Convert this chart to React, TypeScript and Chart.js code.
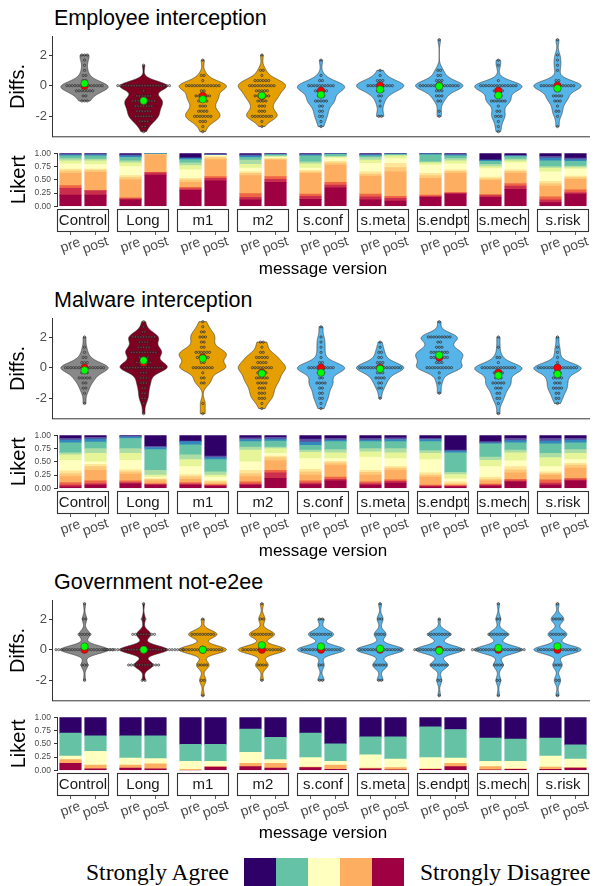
import React, { useEffect, useRef } from 'react';
import { Chart, registerables } from 'chart.js';
Chart.register(...registerables);

const FONT = '"Liberation Sans", Arial, Helvetica, sans-serif';
const SERIF = '"Liberation Serif", "Times New Roman", serif';
Chart.defaults.font.family = FONT;

// ---------- categories & labels ----------
const categories = ['Control', 'Long', 'm1', 'm2', 's.conf', 's.meta', 's.endpt', 's.mech', 's.risk'];
const phases = ['pre', 'post'];
const panelTitles = ['Employee interception', 'Malware interception', 'Government not-e2ee'];
const diffTicks = [-2, 0, 2];
const likertTicks = [0, 0.25, 0.5, 0.75, 1];
const legendLabels = ['Strongly Agree', 'Strongly Disagree'];
const xTitle = 'message version';

// ---------- colours ----------
const violinColors = ['#888888', '#7D0020', '#E69F00', '#E69F00', '#56B4E9', '#56B4E9', '#56B4E9', '#56B4E9', '#56B4E9'];
// bottom (Strongly Disagree) -> top (Strongly Agree)
const pal13 = ['#9E0142', '#CB2D4C', '#EE6445', '#FDAE61', '#FDC978', '#FEE597', '#FFFFBF', '#E6F598', '#ABDDA4', '#66C2A5', '#3288BD', '#5E4FA2', '#2E0068'];
const pal5 = ['#9E0142', '#FDAE61', '#FFFFBF', '#66C2A5', '#2E0068'];

// ---------- Diffs: counts per level ----------
const thirdLevels = [3, 8 / 3, 7 / 3, 2, 5 / 3, 4 / 3, 1, 2 / 3, 1 / 3, 0, -1 / 3, -2 / 3, -1, -4 / 3, -5 / 3, -2, -7 / 3, -8 / 3, -3];
const intLevels = [3, 2, 1, 0, -1, -2, -3];

const empDiffCounts = [
  [0, 0, 0, 3, 1, 1, 1, 2, 2, 14, 7, 2, 3, 0, 0, 0, 0, 0, 0],
  [0, 0, 0, 0, 0, 1, 0, 0, 0, 20, 1, 6, 9, 7, 6, 7, 4, 2, 1],
  [0, 0, 0, 0, 1, 0, 0, 2, 1, 13, 2, 6, 4, 3, 4, 7, 3, 1, 1],
  [0, 0, 0, 1, 0, 0, 2, 1, 6, 10, 5, 6, 4, 3, 3, 8, 1, 1, 0],
  [0, 0, 0, 0, 1, 0, 0, 1, 2, 10, 5, 3, 5, 2, 2, 2, 1, 1, 0],
  [0, 0, 0, 0, 0, 0, 1, 1, 3, 10, 3, 2, 1, 1, 0, 2, 0, 0, 0],
  [1, 0, 0, 0, 0, 0, 2, 2, 3, 15, 3, 3, 2, 0, 1, 1, 0, 0, 0],
  [0, 0, 0, 0, 1, 1, 0, 0, 1, 14, 4, 3, 6, 1, 2, 3, 1, 1, 1],
  [1, 0, 0, 1, 1, 1, 1, 0, 2, 13, 2, 4, 3, 1, 2, 1, 0, 1, 0],
];
const malDiffCounts = [
  [0, 0, 0, 1, 0, 1, 1, 2, 3, 15, 3, 5, 2, 2, 1, 0, 1, 0, 0],
  [1, 1, 2, 9, 4, 5, 10, 4, 6, 15, 3, 3, 3, 2, 2, 2, 1, 0, 1],
  [1, 1, 2, 3, 2, 2, 6, 5, 2, 8, 1, 2, 2, 0, 0, 0, 1, 0, 1],
  [0, 0, 0, 0, 2, 1, 2, 5, 4, 8, 4, 5, 4, 3, 3, 3, 1, 1, 0],
  [0, 1, 0, 1, 1, 1, 1, 1, 2, 10, 3, 2, 4, 2, 2, 2, 1, 1, 0],
  [0, 0, 0, 0, 1, 1, 2, 2, 3, 16, 3, 4, 2, 2, 0, 1, 0, 0, 0],
  [1, 0, 0, 9, 2, 3, 7, 7, 3, 10, 1, 1, 1, 0, 1, 0, 0, 0, 0],
  [0, 0, 0, 1, 0, 1, 0, 2, 1, 13, 4, 3, 5, 3, 2, 2, 1, 0, 1],
  [0, 0, 0, 1, 0, 1, 1, 1, 1, 15, 3, 4, 3, 4, 2, 2, 1, 0, 0],
];
const govDiffCounts = [
  [1, 2, 5, 22, 3, 1, 0],
  [1, 2, 9, 30, 12, 2, 0],
  [0, 1, 9, 15, 4, 2, 1],
  [1, 2, 8, 15, 4, 1, 0],
  [0, 2, 8, 15, 2, 2, 0],
  [1, 2, 4, 16, 5, 2, 0],
  [0, 1, 9, 19, 7, 2, 1],
  [1, 2, 8, 20, 4, 2, 1],
  [1, 4, 6, 15, 3, 2, 1],
];

// ---------- Likert shares (%), bottom level -> top level ----------
const empLikertPre = [
  [21, 13, 5, 23, 5, 3, 10, 6, 4, 5, 2, 2, 1],
  [12, 2, 2, 34, 4, 4, 17, 7, 4, 6, 3, 2, 3],
  [30, 3, 3, 9, 5, 3, 16, 8, 5, 6, 3, 0, 9],
  [12, 5, 7, 34, 4, 3, 7, 7, 8, 5, 3, 2, 3],
  [13, 6, 4, 39, 3, 3, 4, 8, 4, 11, 2, 1, 2],
  [12, 6, 5, 34, 4, 4, 16, 6, 5, 3, 2, 1, 2],
  [17, 2, 2, 32, 5, 4, 16, 4, 2, 13, 2, 0, 1],
  [17, 3, 2, 27, 3, 3, 16, 4, 4, 6, 2, 0, 13],
  [7, 5, 6, 20, 5, 4, 18, 7, 3, 11, 5, 3, 6],
];
const empLikertPost = [
  [21, 8, 1, 34, 4, 2, 9, 7, 3, 6, 2, 2, 1],
  [59, 4, 1, 33, 1, 0, 0, 0, 0, 1, 1, 0, 0],
  [48, 5, 3, 32, 4, 2, 2, 0, 0, 0, 1, 1, 2],
  [45, 6, 5, 31, 2, 1, 2, 2, 1, 2, 1, 1, 1],
  [35, 5, 5, 33, 4, 3, 6, 2, 1, 4, 1, 0, 1],
  [10, 5, 4, 46, 8, 8, 9, 5, 1, 2, 1, 0, 1],
  [23, 2, 1, 36, 4, 3, 11, 6, 4, 5, 2, 1, 2],
  [32, 6, 5, 19, 4, 3, 13, 4, 3, 5, 1, 1, 4],
  [23, 3, 5, 20, 3, 3, 13, 3, 3, 9, 3, 3, 9],
];
const malLikertPre = [
  [3, 3, 5, 11, 6, 5, 20, 10, 4, 19, 5, 3, 6],
  [9, 2, 3, 13, 4, 4, 18, 13, 9, 19, 3, 1, 2],
  [6, 2, 3, 6, 5, 4, 15, 13, 9, 19, 6, 1, 11],
  [6, 2, 4, 10, 6, 6, 16, 22, 6, 10, 4, 3, 5],
  [7, 3, 4, 11, 6, 5, 20, 12, 4, 9, 6, 6, 7],
  [6, 3, 3, 13, 5, 4, 25, 10, 6, 13, 3, 3, 6],
  [3, 1, 2, 15, 4, 4, 25, 12, 5, 17, 4, 2, 6],
  [4, 2, 2, 6, 3, 4, 20, 12, 6, 25, 2, 2, 12],
  [6, 4, 6, 9, 3, 3, 10, 17, 8, 18, 5, 5, 6],
];
const malLikertPost = [
  [6, 3, 5, 20, 7, 4, 5, 16, 9, 12, 6, 3, 4],
  [6, 1, 2, 5, 3, 1, 3, 4, 9, 39, 4, 2, 21],
  [4, 1, 2, 2, 3, 2, 7, 4, 6, 23, 4, 3, 39],
  [19, 10, 5, 18, 6, 3, 5, 9, 3, 11, 4, 3, 4],
  [14, 3, 4, 23, 4, 3, 5, 11, 6, 15, 3, 3, 6],
  [10, 3, 3, 18, 4, 3, 15, 11, 8, 13, 4, 3, 5],
  [3, 1, 1, 2, 2, 3, 6, 8, 4, 37, 3, 2, 28],
  [12, 2, 3, 12, 6, 6, 11, 15, 5, 14, 4, 4, 6],
  [14, 2, 3, 19, 6, 3, 7, 12, 7, 13, 5, 3, 6],
];
const govLikertPre = [
  [13, 7, 7, 43, 30],
  [4, 6, 13, 42, 35],
  [0, 2, 15, 32, 51],
  [7, 6, 21, 44, 22],
  [5, 1, 18, 46, 30],
  [3, 1, 25, 34, 37],
  [2, 1, 21, 58, 18],
  [1, 6, 10, 44, 39],
  [2, 4, 21, 34, 39],
];
const govLikertPost = [
  [3, 7, 26, 29, 35],
  [3, 9, 10, 43, 35],
  [6, 1, 10, 32, 51],
  [4, 9, 7, 42, 38],
  [2, 8, 7, 33, 50],
  [1, 4, 16, 42, 37],
  [7, 6, 10, 54, 23],
  [2, 1, 14, 42, 41],
  [4, 1, 16, 27, 52],
];

const panels = [
  { title: panelTitles[0], levels: thirdLevels, counts: empDiffCounts, bw: 0.3, pre: empLikertPre, post: empLikertPost, pal: pal13 },
  { title: panelTitles[1], levels: thirdLevels, counts: malDiffCounts, bw: 0.3, pre: malLikertPre, post: malLikertPost, pal: pal13 },
  { title: panelTitles[2], levels: intLevels, counts: govDiffCounts, bw: 0.26, pre: govLikertPre, post: govLikertPost, pal: pal5 },
];

// ---------- layout constants ----------
const PANEL_STEP = 282;
const DOT_STEP = 0.046; // horizontal dot spacing, in category units
const VIOLIN_HALF = 0.4; // max half-width, in category units
const FACET_PERIOD = 2.4;
const FACET_HALF = 0.54;

// ---------- stats ----------
function quantile7(s: number[], p: number) {
  const h = (s.length - 1) * p;
  const lo = Math.floor(h);
  const hi = Math.min(lo + 1, s.length - 1);
  return s[lo] + (h - lo) * (s[hi] - s[lo]);
}

function buildViolins(levels: number[], counts: number[][], bw: number) {
  return counts.map((cnt, i) => {
    const vals: number[] = [];
    levels.forEach((v, k) => { for (let j = 0; j < cnt[k]; j++) vals.push(v); });
    const s = [...vals].sort((a, b) => a - b);
    const n = s.length;
    const mean = s.reduce((a, b) => a + b, 0) / n;
    const median = quantile7(s, 0.5);
    const ymin = s[0], ymax = s[n - 1];
    const ys: number[] = [];
    const d: number[] = [];
    const M = 512;
    for (let m = 0; m < M; m++) {
      const y = ymin + (ymax - ymin) * m / (M - 1);
      let acc = 0;
      levels.forEach((v, k) => {
        if (cnt[k] > 0) {
          const z = (y - v) / bw;
          acc += cnt[k] * Math.exp(-0.5 * z * z);
        }
      });
      ys.push(y);
      d.push(acc / (n * bw * Math.sqrt(2 * Math.PI)));
    }
    const dmax = Math.max(...d);
    return { center: i, ys, w: d.map(v => (v / dmax) * VIOLIN_HALF), mean, median, cnt, color: violinColors[i] };
  });
}

// ---------- Violin chart ----------
function ViolinChart({ levels, counts, bw, top }: { levels: number[]; counts: number[][]; bw: number; top: number }) {
  const ref = useRef<HTMLCanvasElement>(null);
  useEffect(() => {
    const groups = buildViolins(levels, counts, bw);
    const dots: { x: number; y: number }[] = [];
    groups.forEach((g, i) => {
      levels.forEach((v, k) => {
        const c = g.cnt[k];
        for (let j = 0; j < c; j++) dots.push({ x: i + (j - (c - 1) / 2) * DOT_STEP, y: v });
      });
    });
    const means = groups.map((g, i) => ({ x: i, y: g.mean }));
    const medians = groups.map((g, i) => ({ x: i, y: g.median }));
    const violinPlugin = {
      id: 'violinShapes',
      beforeDatasetsDraw(chart: any) {
        const { ctx, scales: { x, y } } = chart;
        ctx.save();
        groups.forEach(g => {
          ctx.beginPath();
          g.ys.forEach((yy, k) => {
            const px = x.getPixelForValue(g.center + g.w[k]);
            const py = y.getPixelForValue(yy);
            if (k === 0) ctx.moveTo(px, py); else ctx.lineTo(px, py);
          });
          for (let k = g.ys.length - 1; k >= 0; k--) {
            ctx.lineTo(x.getPixelForValue(g.center - g.w[k]), y.getPixelForValue(g.ys[k]));
          }
          ctx.closePath();
          ctx.fillStyle = g.color;
          ctx.fill();
          ctx.strokeStyle = '#333333';
          ctx.lineWidth = 0.6;
          ctx.stroke();
        });
        ctx.restore();
      },
      afterDraw(chart: any) {
        const { ctx, chartArea } = chart;
        ctx.save();
        ctx.strokeStyle = '#333333';
        ctx.lineWidth = 1;
        ctx.beginPath();
        ctx.moveTo(chartArea.left, chartArea.bottom + 0.5);
        ctx.lineTo(chartArea.right, chartArea.bottom + 0.5);
        ctx.stroke();
        ctx.restore();
      },
    };
    const chart = new Chart(ref.current as HTMLCanvasElement, {
      type: 'scatter',
      data: {
        datasets: [
          { data: dots, pointRadius: 1.15, pointBackgroundColor: 'rgba(140,140,140,0.45)', pointBorderColor: '#1A1A1A', pointBorderWidth: 0.55, order: 3 } as any,
          { data: medians, pointRadius: 3.7, pointBackgroundColor: '#FF0000', pointBorderColor: '#333333', pointBorderWidth: 0.5, order: 2 },
          { data: means, pointRadius: 3.7, pointBackgroundColor: '#00FF00', pointBorderColor: '#333333', pointBorderWidth: 0.5, order: 1 },
        ],
      },
      options: {
        animation: false,
        responsive: false,
        events: [],
        layout: { padding: { top: 8.6, right: 5, bottom: 6.7, left: 0 } },
        plugins: { legend: { display: false }, tooltip: { enabled: false } },
        scales: {
          x: { type: 'linear', display: false, min: -0.55, max: 8.55 },
          y: {
            type: 'linear',
            min: -3.3,
            max: 3.2,
            afterBuildTicks: (s: any) => { s.ticks = diffTicks.map(v => ({ value: v })); },
            afterFit: (s: any) => { s.width = 52; s.paddingTop = 0; s.paddingBottom = 0; },
            ticks: { font: { size: 13, family: FONT }, color: '#4D4D4D', padding: 2 },
            grid: { display: true, drawOnChartArea: false, drawTicks: true, tickLength: 3, color: '#333333' },
            border: { display: true, color: '#333333', width: 1 },
            title: { display: true, text: 'Diffs.', color: '#000000', font: { size: 20, family: FONT }, padding: { top: 6, bottom: 0 } },
          } as any,
        },
      },
      plugins: [violinPlugin],
    });
    return () => chart.destroy();
  }, [levels, counts, bw]);
  return <canvas ref={ref} width={595} height={115} style={{ position: 'absolute', left: 0, top, width: 595, height: 115 }} />;
}

// ---------- Likert chart ----------
function LikertChart({ pre, post, pal, top }: { pre: number[][]; post: number[][]; pal: string[]; top: number }) {
  const ref = useRef<HTMLCanvasElement>(null);
  useEffect(() => {
    const byPhase = [pre, post];
    const barPositions: number[] = [];
    categories.forEach((_, f) => phases.forEach((__, t) => barPositions.push(f * FACET_PERIOD + t)));
    const datasets = pal.map((color, lev) => ({
      data: categories.flatMap((_, f) => phases.map((__, t) => {
        const row = byPhase[t][f];
        const tot = row.reduce((a, b) => a + b, 0);
        return { x: f * FACET_PERIOD + t, y: row[lev] / tot };
      })),
      backgroundColor: color,
      borderWidth: 0,
      barThickness: 21.5,
      stack: 'likert',
    }));
    const stripPlugin = {
      id: 'facetStrips',
      afterDraw(chart: any) {
        const { ctx, chartArea, scales: { x } } = chart;
        ctx.save();
        categories.forEach((cat, f) => {
          const l = x.getPixelForValue(f * FACET_PERIOD - FACET_HALF);
          const r = x.getPixelForValue(f * FACET_PERIOD + 1 + FACET_HALF);
          const t = chartArea.bottom + 2.7;
          const h = 23;
          ctx.fillStyle = '#FFFFFF';
          ctx.fillRect(l, t, r - l, h);
          ctx.strokeStyle = '#333333';
          ctx.lineWidth = 1.1;
          ctx.strokeRect(l + 0.5, t + 0.5, r - l - 1, h - 1);
          ctx.fillStyle = '#1A1A1A';
          ctx.font = `15px ${FONT}`;
          ctx.textAlign = 'center';
          ctx.textBaseline = 'middle';
          ctx.fillText(cat, (l + r) / 2, t + h / 2 + 0.5);
          phases.forEach((ph, k) => {
            const px = x.getPixelForValue(f * FACET_PERIOD + k);
            ctx.strokeStyle = '#333333';
            ctx.lineWidth = 0.8;
            ctx.beginPath();
            ctx.moveTo(px, t + h);
            ctx.lineTo(px, t + h + 3);
            ctx.stroke();
            ctx.save();
            ctx.translate(px, t + h + 3 + 10.5);
            ctx.rotate(-20 * Math.PI / 180);
            ctx.fillStyle = '#4D4D4D';
            ctx.font = `14px ${FONT}`;
            ctx.textAlign = 'center';
            ctx.textBaseline = 'middle';
            ctx.fillText(ph, 0, 0);
            ctx.restore();
          });
        });
        ctx.restore();
      },
    };
    const chart = new Chart(ref.current as HTMLCanvasElement, {
      type: 'bar',
      data: { datasets: datasets as any },
      options: {
        animation: false,
        responsive: false,
        events: [],
        layout: { padding: { top: 8.3, right: 6, bottom: 0, left: 0 } },
        plugins: { legend: { display: false }, tooltip: { enabled: false } },
        scales: {
          x: {
            type: 'linear',
            offset: false,
            stacked: true,
            min: -FACET_HALF,
            max: 8 * FACET_PERIOD + 1 + FACET_HALF,
            afterBuildTicks: (s: any) => { s.ticks = barPositions.map(v => ({ value: v })); },
            ticks: { display: false },
            grid: { display: false, drawTicks: false },
            border: { display: false },
            title: { display: true, text: xTitle, color: '#000000', font: { size: 17, family: FONT }, padding: { top: 53.3, bottom: 0 } },
          } as any,
          y: {
            type: 'linear',
            stacked: true,
            min: 0,
            max: 1,
            afterBuildTicks: (s: any) => { s.ticks = likertTicks.map(v => ({ value: v })); },
            afterFit: (s: any) => { s.width = 57; },
            ticks: { font: { size: 8.5, family: FONT }, color: '#4D4D4D', padding: 3, callback: (v: any) => Number(v).toFixed(2) },
            grid: { display: true, drawOnChartArea: false, drawTicks: true, tickLength: 3, color: '#333333' },
            border: { display: true, color: '#333333', width: 1 },
            title: { display: true, text: 'Likert', color: '#000000', font: { size: 20, family: FONT }, padding: { top: 7.5, bottom: 0 } },
          } as any,
        },
      },
      plugins: [stripPlugin],
    });
    return () => chart.destroy();
  }, [pre, post, pal]);
  return <canvas ref={ref} width={595} height={135} style={{ position: 'absolute', left: 0, top, width: 595, height: 135 }} />;
}

function Panel({ p, oy }: { p: typeof panels[number]; oy: number }) {
  return (
    <>
      <div style={{ position: 'absolute', left: 54, top: oy + 8, fontSize: 21.5, lineHeight: '21px', fontFamily: FONT, color: '#000', whiteSpace: 'nowrap' }}>{p.title}</div>
      <ViolinChart levels={p.levels} counts={p.counts} bw={p.bw} top={oy + 28} />
      <LikertChart pre={p.pre} post={p.post} pal={p.pal} top={oy + 145} />
    </>
  );
}

function Legend() {
  const boxes = [...pal5].reverse();
  return (
    <div style={{ position: 'absolute', left: 0, top: 858, width: 595, height: 28 }}>
      <div style={{ position: 'absolute', right: 595 - 229, top: 2.7, fontFamily: SERIF, fontSize: 23.5, lineHeight: '23px', whiteSpace: 'nowrap', color: '#000' }}>{legendLabels[0]}</div>
      {boxes.map((c, k) => (
        <div key={k} style={{ position: 'absolute', left: 244 + k * 32, top: 0, width: 32, height: 28, background: c }} />
      ))}
      <div style={{ position: 'absolute', left: 420, top: 2.7, fontFamily: SERIF, fontSize: 23.5, lineHeight: '23px', whiteSpace: 'nowrap', color: '#000' }}>{legendLabels[1]}</div>
    </div>
  );
}

export default function App() {
  useEffect(() => { document.body.style.margin = '0'; }, []);
  return (
    <div style={{ position: 'absolute', left: 0, top: 0, width: 595, height: 886, background: '#FFFFFF', overflow: 'hidden' }}>
      {panels.map((p, i) => <Panel key={i} p={p} oy={i * PANEL_STEP} />)}
      <Legend />
    </div>
  );
}
